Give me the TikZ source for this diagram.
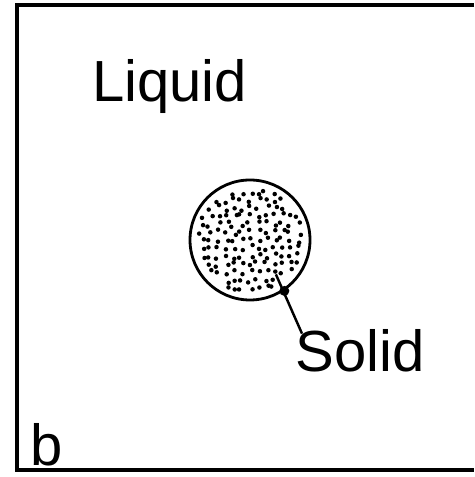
\documentclass[tikz,border=0pt]{standalone}
\usepackage{fontspec}
\setmainfont{Liberation Sans}
\usepackage{tikz}
\usetikzlibrary{positioning, calc}

\begin{document}
\begin{tikzpicture}[
    lbl/.style={font=\fontsize{33}{40}\selectfont, inner sep=0pt, anchor=base west},
    frame/.style={line width=2.2pt, line join=miter},
    grainbox/.style={circle, draw, line width=1.6pt, minimum size=2.4cm, inner sep=0pt}]

\useasboundingbox (0,0) rectangle (9.48,9.54);

% container, open on the right
\draw[frame] (9.48,9.44) -- (0.34,9.44) -- (0.34,0.14) -- (9.48,0.14);

\node[lbl] (liquid) at (1.84,7.5) {Liquid};
\node[lbl] (solid) at (5.9,2.1) {Solid};
\node[lbl] (panel) at (0.6,0.24) {b};

\node[grainbox] (grain) at (5.0,4.74) {};

% stippling on a jittered grid
\pgfmathsetseed{4711}
\foreach \gx in {-1.12,-0.96,...,1.12} {
    \foreach \gy in {-1.12,-0.96,...,1.12} {
        \pgfmathsetmacro\dx{\gx+0.06*rand}
        \pgfmathsetmacro\dy{\gy+0.06*rand}
        \pgfmathparse{(\dx*\dx+\dy*\dy)<1.06*1.06 ? 1 : 0}
        \ifnum\pgfmathresult=1
            \fill ($(grain.center)+(\dx,\dy)$) circle (0.045);
        \fi
    }
}

\coordinate (tip) at ($(grain.center)+(-53:0.86)$);
\fill (grain.-56) circle (0.1);
\draw[line width=1.4pt] (tip) -- ([xshift=0.14cm, yshift=-0.08cm]solid.north west);

\end{tikzpicture}
\end{document}
